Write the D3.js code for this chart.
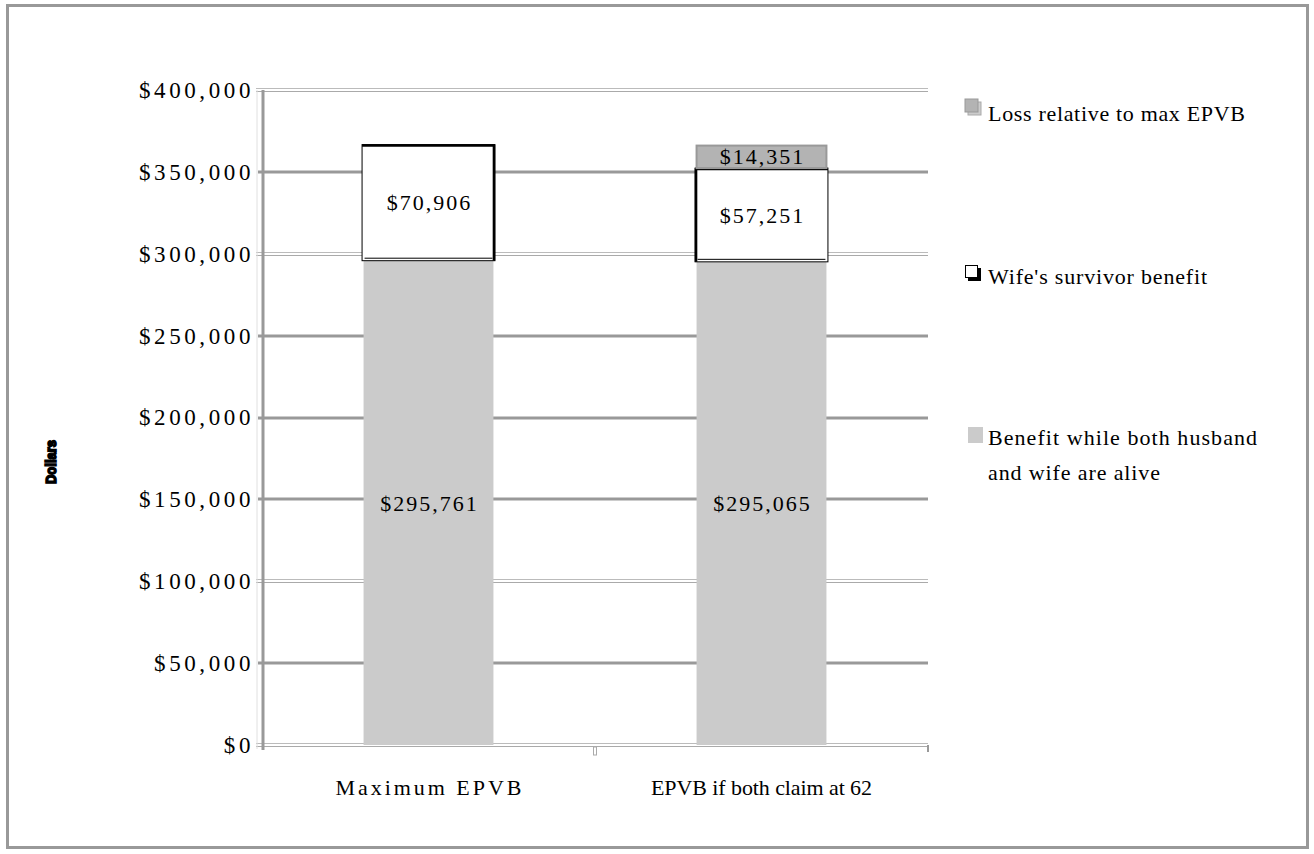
<!DOCTYPE html>
<html><head><meta charset="utf-8">
<script src="https://cdn.jsdelivr.net/npm/d3@7"></script>
<style>
html,body{margin:0;padding:0;background:#fff;}
svg{display:block;}
text{font-family:"Liberation Serif","Times New Roman",serif;fill:#000;}
</style></head>
<body><svg id="c" width="1314" height="854"></svg>
<script>
const categories = ["Maximum EPVB", "EPVB if both claim at 62"];
const seriesNames = ["Benefit while both husband and wife are alive", "Wife's survivor benefit", "Loss relative to max EPVB"];
const benefitBoth = [295761, 295065];
const wifeSurvivor = [70906, 57251];
const lossRelative = [0, 14351];
const yTicks = [0, 50000, 100000, 150000, 200000, 250000, 300000, 350000, 400000];
const yAxisTitle = "Dollars";

(function(){
const svg = d3.select("#c");
svg.append("rect").attr("x",7.5).attr("y",5.5).attr("width",1300).attr("height",842)
  .attr("fill","#fff").attr("stroke","#999").attr("stroke-width",3);

const pLeft = 262, pRight = 928, pTop = 90, pBottom = 745;
const x = d3.scaleBand().domain(categories).range([pLeft, pRight]).paddingInner(0.61).paddingOuter(0.305);
const y = d3.scaleLinear().domain([0, 400000]).range([pBottom, pTop]);
const fmt = v => "$" + d3.format(",")(v);

// gridlines
const hollow = new Set([0, 100000, 300000, 400000]);
const grid = svg.append("g");
yTicks.forEach(t => {
  const yy = Math.round(y(t));
  if (hollow.has(t)) {
    grid.append("line").attr("x1",256).attr("x2",pRight).attr("y1",yy-1.5).attr("y2",yy-1.5).attr("stroke","#bbb").attr("stroke-width",1);
    grid.append("line").attr("x1",256).attr("x2",pRight).attr("y1",yy+1.5).attr("y2",yy+1.5).attr("stroke","#aaa").attr("stroke-width",1);
  } else {
    grid.append("line").attr("x1",258).attr("x2",pRight).attr("y1",yy).attr("y2",yy).attr("stroke","#999").attr("stroke-width",3);
  }
});

// y axis
const yAxis = d3.axisLeft(y).tickValues(yTicks).tickFormat(fmt).tickSize(0).tickPadding(8);
const gy = svg.append("g").attr("transform",`translate(${pLeft},0)`).call(yAxis);
gy.select(".domain").remove();
gy.selectAll("text").attr("font-size",23).attr("letter-spacing","3.6px")
  .style("font-family","'Liberation Serif',serif").attr("fill","#000");
svg.append("line").attr("x1",257).attr("x2",257).attr("y1",pTop).attr("y2",pBottom+4).attr("stroke","#e0e0e0").attr("stroke-width",1);

// x axis
const xLabelWidth = {"Maximum EPVB":186, "EPVB if both claim at 62":221};
const xAxis = d3.axisBottom(x).tickSize(0).tickPadding(34);
const gx = svg.append("g").attr("transform",`translate(0,${pBottom})`).call(xAxis);
gx.select(".domain").remove();
gx.selectAll("text").attr("font-size",22)
  .attr("textLength", d => xLabelWidth[d]).attr("lengthAdjust","spacing")
  .style("font-family","'Liberation Serif',serif").attr("fill","#000");
svg.append("rect").attr("x",(x(categories[0])+x.bandwidth()+x(categories[1]))/2-1.5).attr("y",pBottom+2).attr("width",3).attr("height",8)
  .attr("fill","#fff").attr("stroke","#aaa").attr("stroke-width",1);
svg.append("line").attr("x1",pRight).attr("x2",pRight).attr("y1",pBottom).attr("y2",pBottom+7).attr("stroke","#999").attr("stroke-width",2);

// stacked bars
const rows = categories.map((c,i) => ({cat:c, segs:[
  {key:0, v0:0, v1:benefitBoth[i], v:benefitBoth[i]},
  {key:1, v0:benefitBoth[i], v1:benefitBoth[i]+wifeSurvivor[i], v:wifeSurvivor[i]},
  {key:2, v0:benefitBoth[i]+wifeSurvivor[i], v1:benefitBoth[i]+wifeSurvivor[i]+lossRelative[i], v:lossRelative[i]}
]}));
const bars = svg.append("g");
rows.forEach((r, ri) => {
  const bx = x(r.cat), bw = x.bandwidth();
  r.segs.forEach(s => {
    if (s.v <= 0) return;
    const y0 = y(s.v0), y1 = y(s.v1);
    if (s.key === 0) {
      bars.append("rect").attr("x",bx).attr("y",y1).attr("width",bw).attr("height",y0-y1).attr("fill","#cbcbcb");
    } else if (s.key === 1) {
      bars.append("rect").attr("x",bx-1.5).attr("y",y1).attr("width",bw+3).attr("height",y0-y1)
        .attr("fill","#fff").attr("stroke","#000").attr("stroke-width",1);
      bars.append("line").attr("x1",bx-1.5).attr("x2",bx+bw+1.5).attr("y1",y1+1).attr("y2",y1+1).attr("stroke","#000").attr("stroke-width",2.5);
      const heavyX = ri === 0 ? bx+bw+0.5 : bx-0.5;
      bars.append("line").attr("x1",heavyX).attr("x2",heavyX).attr("y1",y1).attr("y2",y0).attr("stroke","#000").attr("stroke-width",2.5);
      bars.append("line").attr("x1",bx+1).attr("x2",bx+bw-1).attr("y1",y0-2.5).attr("y2",y0-2.5).attr("stroke","#000").attr("stroke-width",1);
    } else {
      bars.append("rect").attr("x",bx).attr("y",y1+1).attr("width",bw).attr("height",y0-y1-1)
        .attr("fill","#b3b3b3").attr("stroke","#999").attr("stroke-width",2);
    }
    bars.append("text").attr("x",bx+bw/2+1).attr("y",(y0+y1)/2).attr("dy","0.35em")
      .attr("text-anchor","middle").attr("font-size",22).attr("letter-spacing","2px").text(fmt(s.v));
  });
});
svg.append("line").attr("x1",pLeft+1).attr("x2",pLeft+1).attr("y1",pTop).attr("y2",pBottom+5).attr("stroke","#999").attr("stroke-width",3);

// y axis title
svg.append("text").attr("transform","translate(56,462) rotate(-90)").attr("text-anchor","middle")
  .attr("font-size",15).attr("font-weight","bold").attr("stroke","#000").attr("stroke-width",1.6)
  .attr("textLength",44).attr("lengthAdjust","spacingAndGlyphs")
  .style("font-family","'Liberation Sans',Arial,sans-serif").text(yAxisTitle);

// legend
const leg = svg.append("g");
const lx = 965;
leg.append("rect").attr("x",lx+3).attr("y",102).attr("width",13).attr("height",13).attr("fill","#ccc").attr("stroke","#aaa");
leg.append("rect").attr("x",lx).attr("y",99).attr("width",13).attr("height",13).attr("fill","#b3b3b3").attr("stroke","#999");
leg.append("text").attr("x",988).attr("y",121).attr("font-size",22)
  .attr("textLength",257).attr("lengthAdjust","spacing").text(seriesNames[2]);
leg.append("rect").attr("x",lx+3).attr("y",268).attr("width",13).attr("height",13).attr("fill","#000");
leg.append("rect").attr("x",lx+0.5).attr("y",265.5).attr("width",12).attr("height",12).attr("fill","#fff").attr("stroke","#000");
leg.append("text").attr("x",988).attr("y",284).attr("font-size",22)
  .attr("textLength",219).attr("lengthAdjust","spacing").text(seriesNames[1]);
leg.append("rect").attr("x",968).attr("y",427).attr("width",15).attr("height",16).attr("fill","#cbcbcb");
leg.append("text").attr("x",988).attr("y",445).attr("font-size",22)
  .attr("textLength",269).attr("lengthAdjust","spacing").text("Benefit while both husband");
leg.append("text").attr("x",988).attr("y",480).attr("font-size",22)
  .attr("textLength",172).attr("lengthAdjust","spacing").text("and wife are alive");
})();
</script></body></html>
